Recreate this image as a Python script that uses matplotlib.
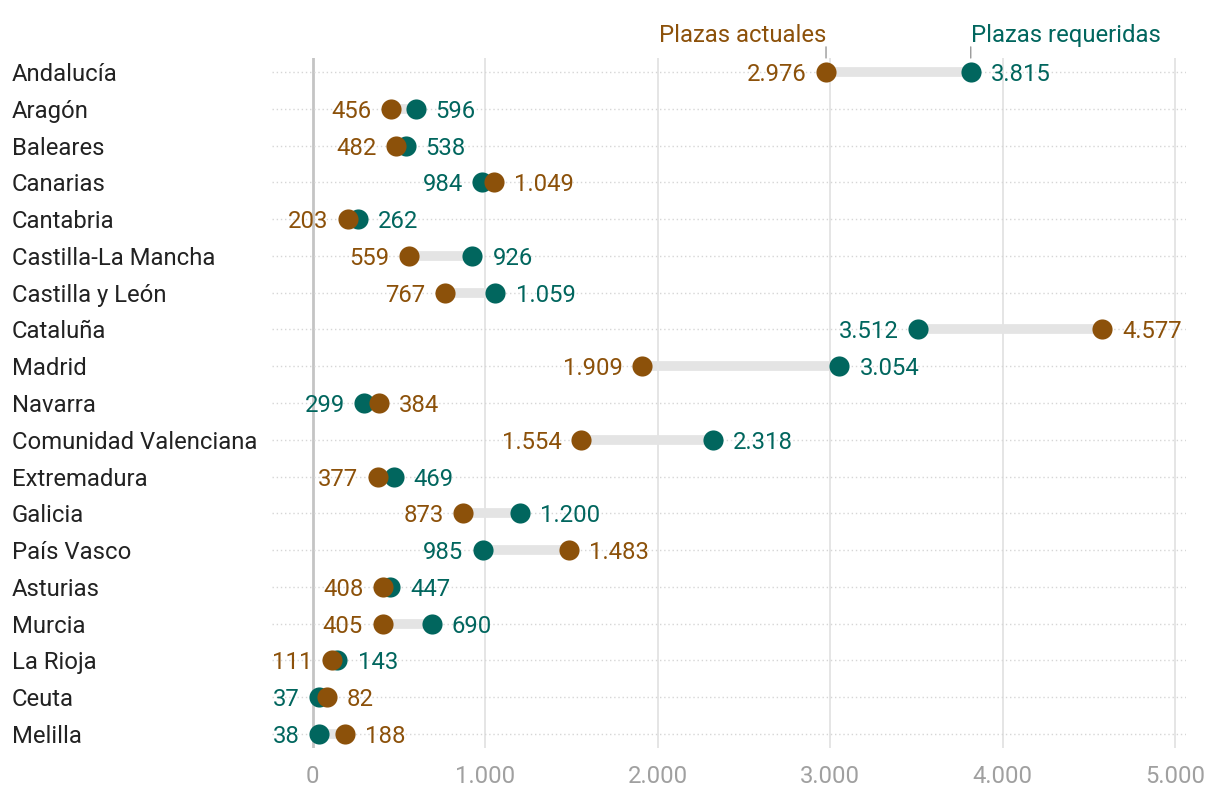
"""
Plazas actuales vs plazas requeridas por comunidad autonoma (dumbbell chart).
"""

import matplotlib
matplotlib.use("Agg")
import matplotlib.pyplot as plt
import matplotlib.transforms as mtransforms

plt.rcParams["font.family"] = ["Roboto", "DejaVu Sans"]

COMUNIDADES = [
    "Andalucía", "Aragón", "Baleares", "Canarias", "Cantabria",
    "Castilla-La Mancha", "Castilla y León", "Cataluña", "Madrid", "Navarra",
    "Comunidad Valenciana", "Extremadura", "Galicia", "País Vasco", "Asturias",
    "Murcia", "La Rioja", "Ceuta", "Melilla",
]
ACTUALES = [2976, 456, 482, 1049, 203, 559, 767, 4577, 1909, 384,
            1554, 377, 873, 1483, 408, 405, 111, 82, 188]
REQUERIDAS = [3815, 596, 538, 984, 262, 926, 1059, 3512, 3054, 299,
              2318, 469, 1200, 985, 447, 690, 143, 37, 38]
XTICKS = [0, 1000, 2000, 3000, 4000, 5000]

MARRON = "#8c510a"
VERDE = "#01665e"
GRIS_TEXTO = "#a0a0a0"
FS = 17.2

W, H = 1220, 796


def fmt(v):
    return f"{v:,}".replace(",", ".")


fig = plt.figure(figsize=(W / 100, H / 100), dpi=100)
ax = fig.add_axes([272 / W, 1 - 748 / H, (1186 - 272) / W, (748 - 58) / H])

n = len(COMUNIDADES)
ys = list(range(n))

# rejilla
for xt in XTICKS:
    ax.axvline(xt, color="#c4c4c4" if xt == 0 else "#e3e3e3",
               lw=2 if xt == 0 else 1.3, zorder=0)
for y in ys:
    ax.axhline(y, color="#d6d6d6", lw=1, ls=(0, (1, 2)), zorder=0)

# barras de conexion y puntos
for y, a, r in zip(ys, ACTUALES, REQUERIDAS):
    ax.plot([a, r], [y, y], color="#e4e4e4", lw=7, solid_capstyle="butt", zorder=1)
ax.scatter(REQUERIDAS, ys, s=210, color=VERDE, zorder=2, linewidths=0)
ax.scatter(ACTUALES, ys, s=210, color=MARRON, zorder=3, linewidths=0)

# etiquetas de valores
for y, a, r in zip(ys, ACTUALES, REQUERIDAS):
    if a <= r:
        izq, der = (a, MARRON), (r, VERDE)
    else:
        izq, der = (r, VERDE), (a, MARRON)
    ax.annotate(fmt(izq[0]), (izq[0], y), xytext=(-14, 0), textcoords="offset points",
                ha="right", va="center_baseline", color=izq[1], fontsize=FS)
    ax.annotate(fmt(der[0]), (der[0], y), xytext=(14.5, 0), textcoords="offset points",
                ha="left", va="center_baseline", color=der[1], fontsize=FS)

# nombres de comunidades
trans = mtransforms.blended_transform_factory(fig.transFigure, ax.transData)
for y, nombre in zip(ys, COMUNIDADES):
    ax.text(12 / W, y, nombre, transform=trans, ha="left", va="center_baseline",
            fontsize=FS, color="#222222")

ax.set_xlim(-236, 5063)
ax.set_ylim(n - 1 + 0.38, -0.38)

# leyenda sobre la primera fila
top = -0.38
for val, txt, col, ha in [(ACTUALES[0], "Plazas actuales", MARRON, "right"),
                          (REQUERIDAS[0], "Plazas requeridas", VERDE, "left")]:
    ax.annotate("", xy=(val, top), xytext=(0, 8), textcoords="offset points",
                xycoords="data", annotation_clip=False,
                arrowprops=dict(arrowstyle="-", color="#999999", lw=1,
                                shrinkA=0, shrinkB=0))
    ax.annotate(txt, (val, top), xytext=(0, 11.5), textcoords="offset points",
                ha=ha, va="baseline", color=col, fontsize=FS, annotation_clip=False)

ax.set_xticks(XTICKS)
ax.set_xticklabels([fmt(v) for v in XTICKS])
ax.set_yticks([])
ax.tick_params(axis="x", length=0, pad=12, labelsize=FS, labelcolor=GRIS_TEXTO)
for s in ax.spines.values():
    s.set_visible(False)

fig.savefig("out.png", dpi=100)
